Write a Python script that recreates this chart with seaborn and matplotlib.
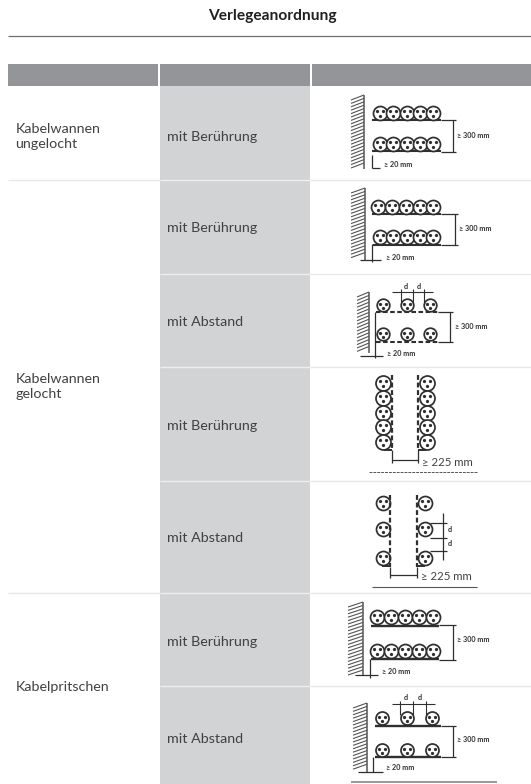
import matplotlib
matplotlib.use("Agg")
import matplotlib.pyplot as plt
import seaborn as sns
import numpy as np
import pandas as pd

TITLE = "Verlegeanordnung"
groups = ["Kabelwannen\nungelocht", "Kabelwannen\ngelocht", "Kabelpritschen"]
group_y = [136, 386, 687]
arrangements = ["mit Berührung", "mit Berührung", "mit Abstand", "mit Berührung",
                "mit Abstand", "mit Berührung", "mit Abstand"]
arrangement_y = [137, 228, 322, 426, 538, 642, 739]
row_lines = [179.5, 274, 367, 481, 592.5, 686]
full_lines = [179.5, 592.5]

INK = "#2f2f2f"
TXT = "#414042"
HEAD = "#939598"
CELL = "#d1d3d4"
RULE = "#e6e7e8"

sns.set_theme(style="white")
plt.rcParams["font.family"] = ["Lato", "DejaVu Sans"]

fig = plt.figure(figsize=(5.31, 7.84), dpi=100)
ax = fig.add_axes([0, 0, 1, 1])
ax.set_xlim(0, 531)
ax.set_ylim(784, 0)
ax.axis("off")


def rect(x0, y0, x1, y1, c, z=1):
    ax.fill_between([x0, x1], y0, y1, color=c, lw=0, zorder=z)


def line(xs, ys, lw=0.9, c=INK, z=4, **kw):
    ax.plot(xs, ys, lw=lw, color=c, zorder=z, solid_capstyle="butt", **kw)


# table frame
line([7.5, 531], [35.7, 35.7], lw=0.9, c="#6d6e71")
rect(7.5, 63.5, 158, 86, HEAD)
rect(159.5, 63.5, 310, 86, HEAD)
rect(311.5, 63.5, 531, 86, HEAD)
rect(159.5, 86, 310, 784, CELL)
for y in row_lines:
    line([159.5, 310], [y, y], lw=1, c="#eeeeef", z=2)
    line([310, 531], [y, y], lw=1, c=RULE, z=2)
for y in full_lines:
    line([7.5, 159.5], [y, y], lw=1, c=RULE, z=2)

ax.text(272, 16, TITLE, ha="center", va="center", fontsize=11.2, fontweight="bold", color="#231f20")
for g, y in zip(groups, group_y):
    ax.text(15.5, y, g, ha="left", va="center", fontsize=10.3, color=TXT, linespacing=1.3)
for a, y in zip(arrangements, arrangement_y):
    ax.text(167, y, a, ha="left", va="center", fontsize=10.3, color=TXT)


def cables(xs, ys, r):
    pts = pd.DataFrame([(x, y) for y in ys for x in xs], columns=["x", "y"])
    d = 2 * r * 0.72
    sns.scatterplot(data=pts, x="x", y="y", ax=ax, s=d ** 2, color="white",
                    edgecolor=INK, linewidth=1.25, zorder=5, legend=False)
    core = []
    for a in (90, 210, 330):
        core.append(pts.assign(x=pts.x + 0.46 * r * np.cos(np.radians(a)),
                               y=pts.y + 0.46 * r * np.sin(np.radians(a))))
    sns.scatterplot(data=pd.concat(core), x="x", y="y", ax=ax, s=5.5, color=INK,
                    linewidth=0, zorder=6, legend=False)


def wall(x0, x1, y0, y1):
    line([x1, x1], [y0, y1], lw=1.1, c="#555555")
    step = 3.4
    for y in np.arange(y0 + 5, y1 + 0.1, step):
        line([x0, x1], [y, y - 5], lw=0.8, c="#555555")


def dim_v(x, y0, y1, ext_from, label, lx, ly):
    line([x, x], [y0, y1], lw=0.9)
    line([ext_from, x + 3], [y0, y0], lw=0.9)
    line([ext_from, x + 3], [y1, y1], lw=0.9)
    ax.text(lx, ly, label, ha="left", va="center", fontsize=5.2, fontweight="bold", color=INK)


def clearance(vx, vy0, vy1, hy, hx0, hx1, tx, ty):
    line([vx, vx], [vy0, vy1], lw=0.9)
    line([hx0, hx1], [hy, hy], lw=0.9)
    ax.text(tx, ty, "≥ 20 mm", ha="left", va="center", fontsize=5.2, fontweight="bold", color=INK)


def d_marks(y, x0, x1, ticks, labels_x, label_y):
    line([x0, x1], [y, y], lw=0.8)
    for t in ticks:
        line([t, t], [y - 3, y + 11], lw=0.8)
    for lx in labels_x:
        ax.text(lx, label_y, "d", ha="center", va="center", fontsize=5.2, fontweight="bold", color=INK)


def tray(x0, x1, y, dashed=False, lw=1.5):
    if dashed:
        ax.plot([x0, x1], [y, y], lw=lw, color=INK, zorder=4, ls=(0, (2.2, 1.2)))
    else:
        line([x0, x1], [y, y], lw=lw)


# row 1
wall(351, 364, 95, 169)
cables([380, 393, 407, 420, 433], [113], 7)
cables([380, 393, 407, 420, 433], [144], 7)
tray(372, 441, 120); tray(372, 441, 151)
dim_v(453, 120, 152, 441, "≥ 300 mm", 457, 135)
clearance(372, 155, 168, 168, 372, 380, 384, 164.5)

# row 2
wall(351, 365, 188, 260)
cables([378, 392, 406, 420, 433], [207], 7)
cables([380, 393, 407, 420, 433], [237], 7)
tray(372, 441, 214); tray(373, 441, 244.5)
dim_v(455, 214, 245, 441, "≥ 300 mm", 459, 228)
clearance(372, 244, 262, 260, 360, 381, 386, 257)

# row 3
wall(357, 369, 292, 353)
cables([383, 407, 430], [305, 334], 6.3)
tray(376, 438, 312, dashed=True); tray(376, 438, 342, dashed=True)
dim_v(450, 312, 342, 438, "≥ 300 mm", 455, 326)
d_marks(292, 392, 433, [401, 413, 424], [406, 419], 286)
clearance(375, 312, 358, 356, 360, 383, 387, 353)

# row 4
cables([383, 427], [383, 398, 413, 427, 442], 7.5)
ax.plot([392, 392], [375, 450], lw=1.6, color=INK, zorder=7, ls=(0, (2.2, 1.2)))
ax.plot([418, 418], [375, 450], lw=1.6, color=INK, zorder=7, ls=(0, (2.2, 1.2)))
line([392, 392], [450, 463]); line([418, 418], [450, 463])
line([392, 418], [460, 460])
line([384, 392], [450, 450], lw=1.4); line([418, 426], [450, 450], lw=1.4)
ax.text(422, 462, "≥ 225 mm", ha="left", va="center", fontsize=8.2, color=TXT)
ax.plot([369, 478], [472, 472], lw=0.7, color="#555555", ls=(0, (3, 1)), zorder=3)

# row 5
cables([383, 425], [503, 529, 558], 7)
ax.plot([390, 390], [495, 567], lw=1.6, color=INK, zorder=7, ls=(0, (2.2, 1.2)))
ax.plot([417, 417], [495, 567], lw=1.6, color=INK, zorder=7, ls=(0, (2.2, 1.2)))
line([390, 390], [567, 578]); line([417, 417], [567, 578])
line([390, 417], [575, 575])
line([382, 390], [566, 566], lw=1.4); line([417, 425], [566, 566], lw=1.4)
line([443, 443], [513, 560])
for yy in [523, 538, 551]:
    line([430, 447], [yy, yy])
ax.text(450, 530, "d", ha="center", va="center", fontsize=5.2, fontweight="bold", color=INK)
ax.text(450, 544, "d", ha="center", va="center", fontsize=5.2, fontweight="bold", color=INK)
ax.text(421, 577, "≥ 225 mm", ha="left", va="center", fontsize=8.2, color=TXT)
line([372, 477], [587, 587], lw=0.8, c="#555555")

# row 6
wall(348, 363, 602, 675)
cables([377, 391, 405, 419, 433], [617, 651], 7)
tray(371, 439, 626, lw=1.7); tray(371, 439, 659, lw=1.7)
dim_v(453, 625, 660, 439, "≥ 300 mm", 457, 640)
clearance(370, 659, 678, 675, 355, 378, 382, 671)

# row 7
wall(353, 367, 703, 772)
cables([382, 407, 432], [718, 750], 6.5)
tray(375, 441, 726, lw=1.7); tray(375, 441, 756.5, lw=1.7)
dim_v(453, 726, 757, 441, "≥ 300 mm", 457, 740)
d_marks(704, 392, 435, [400, 413, 426], [406, 420], 697)
clearance(373, 757, 772, 772, 358, 383, 386, 768)
line([351, 497], [781.5, 781.5], lw=1.2, c="#888888")

ax.set_xlabel(""); ax.set_ylabel("")
ax.set_xlim(0, 531)
ax.set_ylim(784, 0)
fig.savefig("out.png", dpi=100)
